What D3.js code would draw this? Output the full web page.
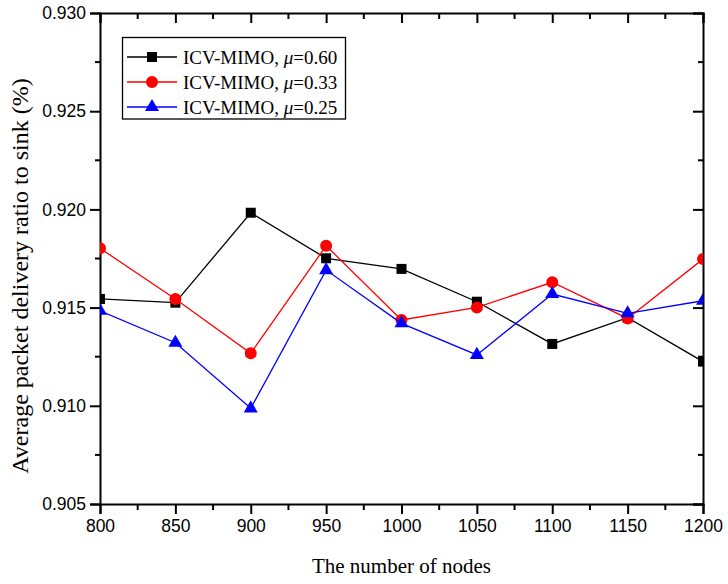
<!DOCTYPE html>
<html>
<head>
<meta charset="utf-8">
<script src="https://cdn.jsdelivr.net/npm/d3@7"></script>
<style>
  html, body { margin: 0; padding: 0; background: #fff; }
  svg { display: block; }
</style>
</head>
<body>
<svg id="chart" width="728" height="584"></svg>
<script>
const nodes = [800, 850, 900, 950, 1000, 1050, 1100, 1150, 1200];
const mu060 = [0.91544, 0.91525, 0.91983, 0.91751, 0.91697, 0.91530, 0.91315, 0.91449, 0.91225];
const mu033 = [0.91802, 0.91544, 0.91267, 0.91815, 0.91437, 0.91501, 0.91629, 0.91445, 0.91747];
const mu025 = [0.91484, 0.91321, 0.90987, 0.91691, 0.91420, 0.91259, 0.91569, 0.91471, 0.91535];
const seriesNames = ["0.60", "0.33", "0.25"];
const xTicks = [800, 850, 900, 950, 1000, 1050, 1100, 1150, 1200];
const yTicks = [0.905, 0.910, 0.915, 0.920, 0.925, 0.930];

const series = [
  { name: seriesNames[0], values: mu060, color: "#000000", symbol: d3.symbolSquare, size: 100 },
  { name: seriesNames[1], values: mu033, color: "#ff0000", symbol: d3.symbolCircle, size: 113 },
  { name: seriesNames[2], values: mu025, color: "#0000ff", symbol: d3.symbolTriangle, size: 85 }
];

const L = 100, R = 703, T = 13, B = 504;
const svg = d3.select("#chart");
const x = d3.scaleLinear().domain([800, 1200]).range([L, R]);
const y = d3.scaleLinear().domain([0.905, 0.930]).range([B, T]);

const minorX = d3.range(800, 1201, 25);
const minorY = d3.range(0, 11).map(i => 0.905 + i * 0.0025);

svg.append("defs").append("clipPath").attr("id", "plotclip")
  .append("rect").attr("x", L).attr("y", T).attr("width", R - L).attr("height", B - T);

const tickFont = "'Liberation Sans', Arial, sans-serif";
const serif = "'Liberation Serif', 'Times New Roman', serif";

// Bottom axis
const gB = svg.append("g").attr("transform", `translate(0,${B})`)
  .call(d3.axisBottom(x).tickValues(xTicks).tickSize(10).tickPadding(6).tickFormat(d3.format("d")));
gB.append("g").selectAll("line").data(minorX.filter(v => !xTicks.includes(v))).join("line")
  .attr("x1", d => x(d)).attr("x2", d => x(d)).attr("y1", 0).attr("y2", 6)
  .attr("stroke", "#000").attr("stroke-width", 2);
// Left axis
const gL = svg.append("g").attr("transform", `translate(${L},0)`)
  .call(d3.axisLeft(y).tickValues(yTicks).tickSize(10).tickPadding(4).tickFormat(d3.format(".3f")));
gL.append("g").selectAll("line").data(minorY.filter(v => !yTicks.some(t => Math.abs(t - v) < 1e-9))).join("line")
  .attr("y1", d => y(d)).attr("y2", d => y(d)).attr("x1", 0).attr("x2", -5)
  .attr("stroke", "#000").attr("stroke-width", 2);
// Top axis (inward)
const gT = svg.append("g").attr("transform", `translate(0,${T})`)
  .call(d3.axisBottom(x).tickValues(xTicks).tickSize(10).tickFormat(""));
gT.append("g").selectAll("line").data(minorX.filter(v => !xTicks.includes(v))).join("line")
  .attr("x1", d => x(d)).attr("x2", d => x(d)).attr("y1", 0).attr("y2", 6)
  .attr("stroke", "#000").attr("stroke-width", 2);
// Right axis (inward)
const gR = svg.append("g").attr("transform", `translate(${R},0)`)
  .call(d3.axisLeft(y).tickValues(yTicks).tickSize(10).tickFormat(""));
gR.append("g").selectAll("line").data(minorY.filter(v => !yTicks.some(t => Math.abs(t - v) < 1e-9))).join("line")
  .attr("y1", d => y(d)).attr("y2", d => y(d)).attr("x1", 0).attr("x2", -5)
  .attr("stroke", "#000").attr("stroke-width", 2);

[gB, gL, gT, gR].forEach(g => {
  g.select(".domain").attr("stroke", "#000").attr("stroke-width", 2);
  g.selectAll(".tick line").attr("stroke", "#000").attr("stroke-width", 2);
  g.selectAll("text").attr("font-family", tickFont).attr("font-size", 17.5).attr("fill", "#000");
});

// Data
const plot = svg.append("g").attr("clip-path", "url(#plotclip)");
const line = d3.line().x((d, i) => x(nodes[i])).y(d => y(d));
series.forEach(s => {
  plot.append("path").datum(s.values).attr("d", line)
    .attr("fill", "none").attr("stroke", s.color).attr("stroke-width", 1.3);
  plot.append("g").selectAll("path").data(s.values).join("path")
    .attr("transform", (d, i) => `translate(${x(nodes[i])},${y(d)})`)
    .attr("d", d3.symbol().type(s.symbol).size(s.size))
    .attr("fill", s.color);
});

// Legend
const lg = svg.append("g");
lg.append("rect").attr("x", 122.5).attr("y", 37.5).attr("width", 223).attr("height", 81.5)
  .attr("fill", "#fff").attr("stroke", "#000").attr("stroke-width", 1.3);
series.forEach((s, i) => {
  const yy = 57 + i * 25;
  lg.append("line").attr("x1", 127).attr("x2", 177).attr("y1", yy).attr("y2", yy)
    .attr("stroke", s.color).attr("stroke-width", 1.3);
  lg.append("path").attr("transform", `translate(152,${yy})`)
    .attr("d", d3.symbol().type(s.symbol).size(s.size)).attr("fill", s.color);
  const t = lg.append("text").attr("x", 183).attr("y", yy + 6.5)
    .attr("font-family", serif).attr("font-size", 19).attr("fill", "#000");
  t.append("tspan").text("ICV-MIMO, ");
  t.append("tspan").attr("font-style", "italic").text("\u03bc");
  t.append("tspan").text("=" + s.name);
});

// Axis titles
svg.append("text").attr("x", (L + R) / 2).attr("y", 573).attr("text-anchor", "middle")
  .attr("font-family", serif).attr("font-size", 21).attr("fill", "#000")
  .text("The number of nodes");
svg.append("text").attr("transform", "translate(28,276) rotate(-90)").attr("text-anchor", "middle")
  .attr("font-family", serif).attr("font-size", 24).attr("fill", "#000")
  .text("Average packet delivery ratio to sink (%)");
</script>
</body>
</html>
